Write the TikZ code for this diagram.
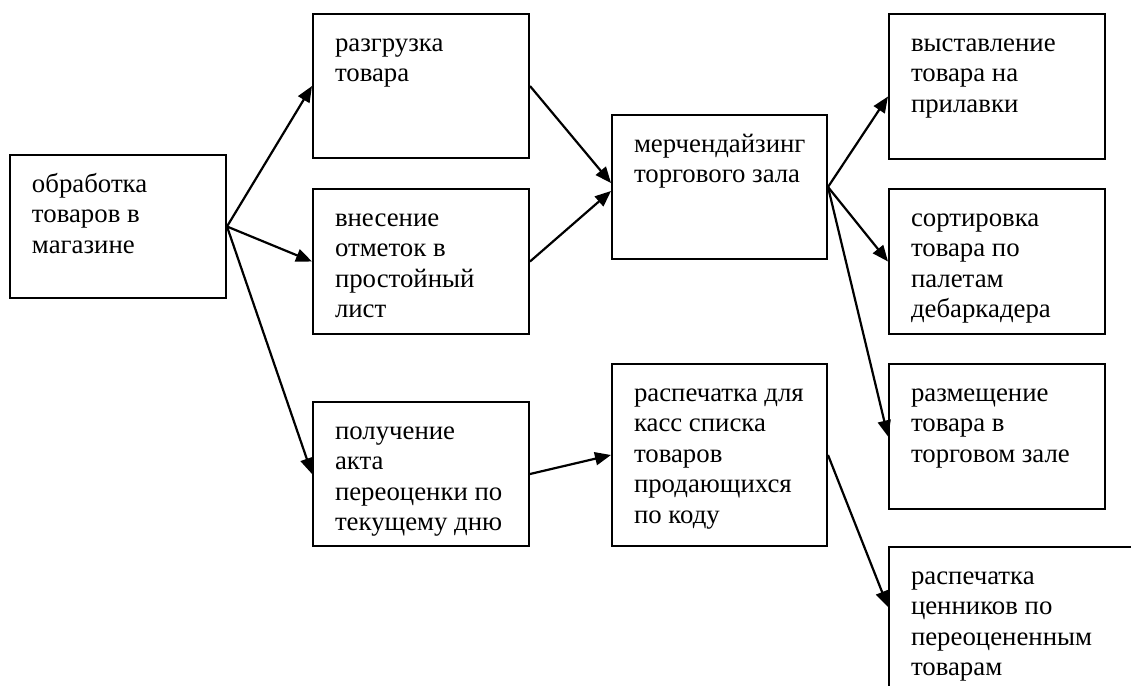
\documentclass[tikz,border=0pt]{standalone}
\usepackage{fontspec}
\setmainfont{Liberation Serif}
\usetikzlibrary{arrows.meta,calc}
\newcommand\mybx[3][108pt]{\parbox[c][#2][t]{#1}{\rule{0pt}{18.5pt}\kern11pt\begin{tabular}[t]{@{}l@{}}#3\end{tabular}}}
\tikzset{
  stage/.style={draw, line width=1pt, inner sep=0pt, anchor=north west,
    font=\fontsize{13.4pt}{15.3pt}\selectfont},
  conn/.style={draw, line width=1.1pt, -{Triangle[length=8pt,width=6.5pt]}}
}
\begin{document}
\begin{tikzpicture}[x=0.5pt,y=-0.5pt]
\useasboundingbox (0,0) rectangle (1131,686);
\clip (0,0) rectangle (1131,686);
\fill[white] (0,0) rectangle (1131,686);
\node[stage] (A) at (9,154) {\mybx{71.5pt}{обработка\\товаров в\\магазине}};
\node[stage] (B) at (312,13) {\mybx{72pt}{разгрузка\\товара}};
\node[stage] (C) at (312,188) {\mybx{72.5pt}{внесение\\отметок в\\простойный\\лист}};
\node[stage] (D) at (611,114) {\mybx[107.5pt]{72pt}{мерчендайзинг\\торгового зала}};
\node[stage] (E) at (312,401) {\mybx{72pt}{получение\\акта\\переоценки по\\текущему дню}};
\node[stage] (F) at (611,363) {\mybx[107.5pt]{91pt}{распечатка для\\касс списка\\товаров\\продающихся\\по коду}};
\node[stage] (G) at (888,13) {\mybx{72.5pt}{выставление\\товара на\\прилавки}};
\node[stage] (H) at (888,188) {\mybx{72.5pt}{сортировка\\товара по\\палетам\\дебаркадера}};
\node[stage] (I) at (888,363) {\mybx{72.5pt}{размещение\\товара в\\торговом зале}};
\node[stage] (J) at (888,546) {\mybx[150pt]{100pt}{распечатка\\ценников по\\переоцененным\\товарам}};
\draw[conn] (A.east) -- (B.west);
\draw[conn] (A.east) -- (C.west);
\draw[conn] (A.east) -- (E.west);
\draw[conn] (B.east) -- ($(D.west)+(0,-4)$);
\draw[conn] (C.east) -- ($(D.west)+(0,4)$);
\draw[conn] (D.east) -- ($(G.west)+(0,10)$);
\draw[conn] (D.east) -- (H.west);
\draw[conn] (D.east) -- (I.west);
\draw[conn] (E.east) -- (F.west);
\draw[conn] (F.east) -- ($(J.north west)+(0,61)$);
\end{tikzpicture}
\end{document}
